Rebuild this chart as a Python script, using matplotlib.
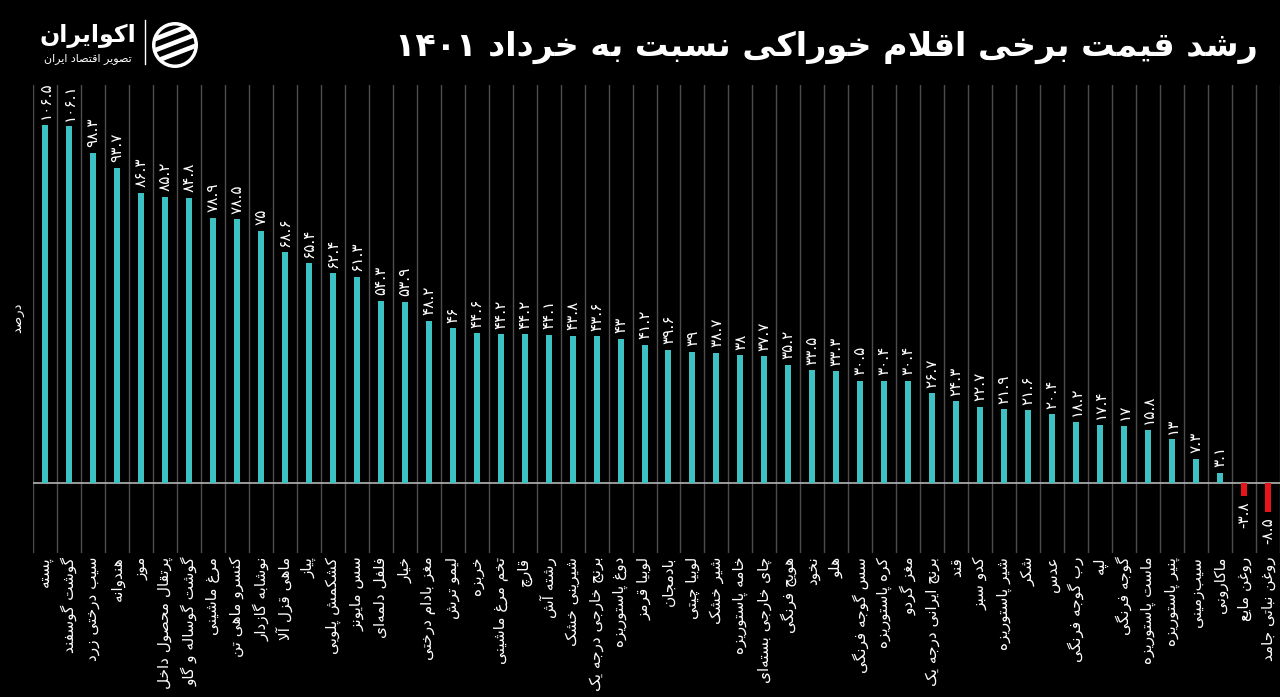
import re
import matplotlib
matplotlib.use('Agg')
import matplotlib.pyplot as plt
from matplotlib.patches import Circle, Polygon
import numpy as np

# ---------------- data ----------------
categories = [
    'پسته', 'گوشت گوسفند', 'سیب درختی زرد', 'هندوانه', 'موز',
    'پرتقال محصول داخل', 'گوشت گوساله و گاو', 'مرغ ماشینی', 'کنسرو ماهی تن',
    'نوشابه گازدار', 'ماهی قزل آلا', 'پیاز', 'کشکمش پلویی', 'سس مایونز',
    'فلفل دلمه\u200cای', 'خیار', 'مغز بادام درختی', 'لیمو ترش', 'خربزه',
    'تخم مرغ ماشینی', 'قارچ', 'رشته آش', 'شیرینی خشک', 'برنج خارجی درجه یک',
    'دوغ پاستوریزه', 'لوبیا قرمز', 'بادمجان', 'لوبیا چیتی', 'شیر خشک',
    'خامه پاستوریزه', 'چای خارجی بسته\u200cای', 'هویج فرنگی', 'نخود', 'هلو',
    'سس گوجه فرنگی', 'کره پاستوریزه', 'مغز گردو', 'برنج ایرانی درجه یک', 'قند',
    'کدو سبز', 'شیر پاستوریزه', 'شکر', 'عدس', 'رب گوجه فرنگی', 'لپه',
    'گوجه فرنگی', 'ماست پاستوریزه', 'پنیر پاستوریزه', 'سیب\u200cزمینی',
    'ماکارونی', 'روغن مایع', 'روغن نباتی جامد',
]
values = [
    106.5, 106.1, 98.3, 93.7, 86.3, 85.2, 84.8, 78.9, 78.5, 75,
    68.6, 65.4, 62.4, 61.3, 54.3, 53.9, 48.2, 46, 44.6, 44.2,
    44.2, 44.1, 43.8, 43.6, 43, 41.2, 39.6, 39, 38.7, 38,
    37.7, 35.2, 33.5, 33.3, 30.5, 30.4, 30.4, 26.7, 24.3, 22.7,
    21.9, 21.6, 20.4, 18.2, 17.4, 17, 15.8, 13, 7.3, 3.1,
    -3.8, -8.5,
]
title_text = 'رشد قیمت برخی اقلام خوراکی نسبت به خرداد ۱۴۰۱'
ylabel_text = 'درصد'
logo_text = 'اکوایران'
logo_sub = 'تصویر اقتصاد ایران'

# ---------------- minimal Persian shaping ----------------
FORMS = {
    'ا': ('\uFE8D', '\uFE8E', None, None),
    'آ': ('\uFE81', '\uFE82', None, None),
    'ب': ('\uFE8F', '\uFE90', '\uFE91', '\uFE92'),
    'پ': ('\uFB56', '\uFB57', '\uFB58', '\uFB59'),
    'ت': ('\uFE95', '\uFE96', '\uFE97', '\uFE98'),
    'ث': ('\uFE99', '\uFE9A', '\uFE9B', '\uFE9C'),
    'ج': ('\uFE9D', '\uFE9E', '\uFE9F', '\uFEA0'),
    'چ': ('\uFB7A', '\uFB7B', '\uFB7C', '\uFB7D'),
    'ح': ('\uFEA1', '\uFEA2', '\uFEA3', '\uFEA4'),
    'خ': ('\uFEA5', '\uFEA6', '\uFEA7', '\uFEA8'),
    'د': ('\uFEA9', '\uFEAA', None, None),
    'ذ': ('\uFEAB', '\uFEAC', None, None),
    'ر': ('\uFEAD', '\uFEAE', None, None),
    'ز': ('\uFEAF', '\uFEB0', None, None),
    'ژ': ('\uFB8A', '\uFB8B', None, None),
    'س': ('\uFEB1', '\uFEB2', '\uFEB3', '\uFEB4'),
    'ش': ('\uFEB5', '\uFEB6', '\uFEB7', '\uFEB8'),
    'ص': ('\uFEB9', '\uFEBA', '\uFEBB', '\uFEBC'),
    'ض': ('\uFEBD', '\uFEBE', '\uFEBF', '\uFEC0'),
    'ط': ('\uFEC1', '\uFEC2', '\uFEC3', '\uFEC4'),
    'ظ': ('\uFEC5', '\uFEC6', '\uFEC7', '\uFEC8'),
    'ع': ('\uFEC9', '\uFECA', '\uFECB', '\uFECC'),
    'غ': ('\uFECD', '\uFECE', '\uFECF', '\uFED0'),
    'ف': ('\uFED1', '\uFED2', '\uFED3', '\uFED4'),
    'ق': ('\uFED5', '\uFED6', '\uFED7', '\uFED8'),
    'ک': ('\uFB8E', '\uFB8F', '\uFB90', '\uFB91'),
    'گ': ('\uFB92', '\uFB93', '\uFB94', '\uFB95'),
    'ل': ('\uFEDD', '\uFEDE', '\uFEDF', '\uFEE0'),
    'م': ('\uFEE1', '\uFEE2', '\uFEE3', '\uFEE4'),
    'ن': ('\uFEE5', '\uFEE6', '\uFEE7', '\uFEE8'),
    'ه': ('\uFEE9', '\uFEEA', '\uFEEB', '\uFEEC'),
    'و': ('\uFEED', '\uFEEE', None, None),
    'ی': ('\uFBFC', '\uFBFD', '\uFBFE', '\uFBFF'),
}


def _joins_next(c):
    return c in FORMS and FORMS[c][2] is not None


def fa(s):
    chars = list(s)
    n = len(chars)
    out = []
    i = 0
    while i < n:
        c = chars[i]
        if c not in FORMS:
            if c != '\u200c':
                out.append(c)
            i += 1
            continue
        prev = chars[i - 1] if i > 0 else None
        jp = prev is not None and _joins_next(prev)
        if c == 'ل' and i + 1 < n and chars[i + 1] in ('ا', 'آ'):
            if chars[i + 1] == 'ا':
                out.append('\uFEFC' if jp else '\uFEFB')
            else:
                out.append('\uFEF6' if jp else '\uFEF5')
            i += 2
            continue
        nxt = chars[i + 1] if i + 1 < n else None
        jn = _joins_next(c) and nxt is not None and nxt in FORMS
        iso, fin, ini, med = FORMS[c]
        if jp and jn:
            g = med
        elif jp:
            g = fin
        elif jn:
            g = ini
        else:
            g = iso
        out.append(g)
        i += 1
    rev = ''.join(out)[::-1]
    rev = re.sub(r'[۰-۹0-9.]+', lambda m: m.group(0)[::-1], rev)
    return rev


PDIG = str.maketrans('0123456789', '۰۱۲۳۴۵۶۷۸۹')


def fnum(v):
    s = str(int(v)) if float(v).is_integer() else f'{v:.1f}'
    return s.translate(PDIG)


# ---------------- figure ----------------
plt.rcParams['font.family'] = ['DejaVu Sans']
BG = '#000000'
TEAL = '#3EC1C3'
RED = '#E8141C'

fig = plt.figure(figsize=(12.8, 6.97), dpi=100, facecolor=BG)
ax = fig.add_axes([33 / 1280, (697 - 553) / 697, 1 - 33 / 1280, 468 / 697])
ax.set_facecolor(BG)

x = np.arange(len(values))
colors = [TEAL if v >= 0 else RED for v in values]
ax.bar(x, values, width=0.25, color=colors, zorder=3)

ax.set_xlim(-0.5, len(values) - 0.5)
ax.set_ylim(-20.8, 118.4)

for b in np.arange(-0.5, len(values), 1.0):
    ax.axvline(b, color='#4d4d4d', lw=1.0, zorder=1)
ax.axhline(0, color='#b5b5b5', lw=1.2, zorder=2)

for s in ax.spines.values():
    s.set_visible(False)
ax.set_xticks([])
ax.set_yticks([])

# value labels
for xi, v in zip(x, values):
    if v >= 0:
        ax.annotate(fnum(v), (xi, v), xytext=(0, 4), textcoords='offset points',
                    rotation=90, ha='center', va='bottom', color='white',
                    fontsize=11, zorder=4)
    else:
        ax.annotate(fnum(v), (xi, v), xytext=(0, -4), textcoords='offset points',
                    rotation=90, ha='center', va='top', color='white',
                    fontsize=11, zorder=4)

# category labels
trans = ax.get_xaxis_transform()
for xi, c in zip(x, categories):
    ax.text(xi, -0.008, fa(c), transform=trans, rotation=90, ha='center',
            va='top', color='white', fontsize=11, clip_on=False)

# y label
fig.text(18 / 1280, 1 - 318 / 697, fa(ylabel_text), rotation=90, ha='center',
         va='center', color='white', fontsize=9.5)

# title
fig.text(1258 / 1280, 1 - 47 / 697, fa(title_text), ha='right', va='center',
         color='white', fontsize=24, fontweight='bold')

# logo
fig.text(88 / 1280, 1 - 36 / 697, fa(logo_text), ha='center', va='center',
         color='white', fontsize=17, fontweight='bold')
fig.text(88 / 1280, 1 - 59 / 697, fa(logo_sub), ha='center', va='center',
         color='white', fontsize=8)
fig.add_artist(plt.Line2D([145 / 1280, 145 / 1280], [1 - 20 / 697, 1 - 64 / 697],
                          color='white', lw=1, transform=fig.transFigure))
# icon (approximation)
icon_ax = fig.add_axes([150 / 1280, 1 - 70 / 697, 50 / 1280, 50 / 697])
icon_ax.set_xlim(-1, 1)
icon_ax.set_ylim(-1, 1)
icon_ax.set_aspect('equal')
icon_ax.axis('off')
circ = Circle((0, 0), 0.85, facecolor='none', edgecolor='white', lw=2.5)
icon_ax.add_patch(circ)
for off in (-0.45, 0.0, 0.45):
    p = Polygon([(-0.9, -0.35 + off), (0.9, 0.35 + off), (0.9, 0.55 + off), (-0.9, -0.15 + off)],
                closed=True, facecolor='white', edgecolor='none')
    icon_ax.add_patch(p)
    p.set_clip_path(Circle((0, 0), 0.8, transform=icon_ax.transData))

fig.savefig('out.png', dpi=100, facecolor=BG)
